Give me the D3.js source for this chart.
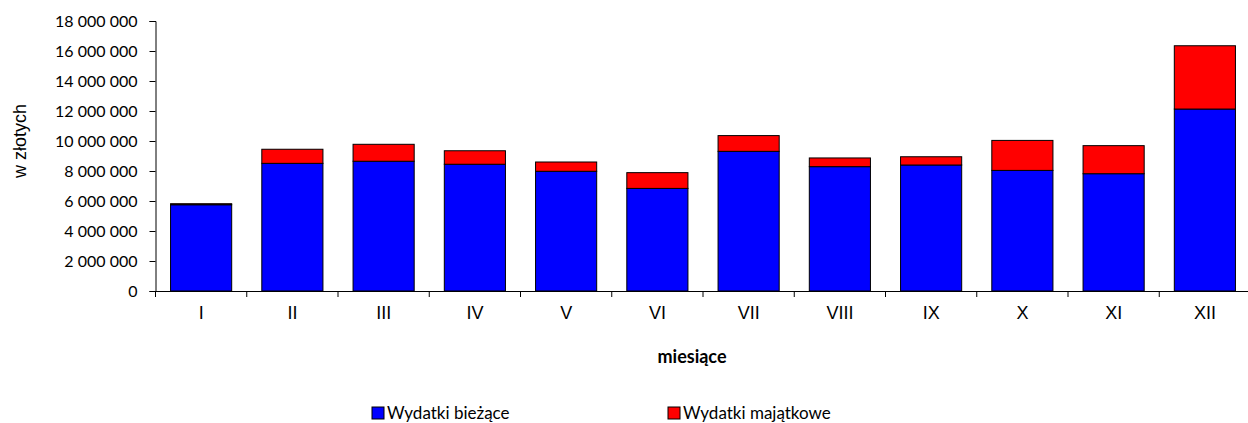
<!DOCTYPE html>
<html>
<head>
<meta charset="utf-8">
<script src="https://cdn.jsdelivr.net/npm/d3@7"></script>
<style>
  body { margin: 0; background: #fff; }
  svg { display: block; }
</style>
</head>
<body>
<svg id="chart" width="1248" height="423"></svg>
<script>
// dane
const months = ['I', 'II', 'III', 'IV', 'V', 'VI', 'VII', 'VIII', 'IX', 'X', 'XI', 'XII']
const biezace = [5750000, 8510000, 8650000, 8450000, 7980000, 6840000, 9310000, 8290000, 8400000, 8040000, 7820000, 12130000]
const majatkowe = [70000, 940000, 1130000, 900000, 620000, 1050000, 1050000, 580000, 550000, 2000000, 1870000, 4220000]
const yTicks = [0, 2000000, 4000000, 6000000, 8000000, 10000000, 12000000, 14000000, 16000000, 18000000]
const seriesNames = ['Wydatki bieżące', 'Wydatki majątkowe']
const colors = ['#0000ff', '#ff0000']

const svg = d3.select('#chart')
const plot = { left: 155.5, right: 1250.5, top: 21, bottom: 291 }

const x = d3.scaleBand()
  .domain(months)
  .range([plot.left, plot.right])
  .paddingInner(0.33)
  .paddingOuter(0.165)

const y = d3.scaleLinear()
  .domain([0, 18000000])
  .range([plot.bottom, plot.top])

const fmt = d3.formatLocale({ decimal: ',', thousands: ' ', grouping: [3], currency: ['', ''] }).format(',d')

const rows = months.map((m, i) => ({ month: m, b: biezace[i], m: majatkowe[i] }))
const stacked = d3.stack().keys(['b', 'm'])(rows)

// słupki
svg.append('g')
  .selectAll('g')
  .data(stacked)
  .join('g')
  .attr('fill', (d, i) => colors[i])
  .selectAll('rect')
  .data(d => d)
  .join('rect')
  .attr('x', d => x(d.data.month))
  .attr('y', d => y(d[1]))
  .attr('width', x.bandwidth())
  .attr('height', d => y(d[0]) - y(d[1]))
  .attr('stroke', '#000')
  .attr('stroke-width', 1)

// oś Y
const yAxis = svg.append('g')
  .attr('transform', `translate(${plot.left},0)`)
  .call(d3.axisLeft(y).tickValues(yTicks).tickFormat(fmt).tickSize(6).tickPadding(12))
yAxis.select('.domain').attr('stroke', '#000')
yAxis.selectAll('text')
  .attr('font-family', 'Lato, Carlito, sans-serif')
  .attr('font-size', 16)
  .attr('fill', '#000')

// oś X
const xAxis = svg.append('g')
  .attr('transform', `translate(0,${plot.bottom})`)
  .call(d3.axisBottom(x).tickSize(0).tickPadding(15))
xAxis.select('.domain').attr('stroke', '#000')
xAxis.selectAll('text')
  .attr('font-family', 'Liberation Sans, Arial, sans-serif')
  .attr('font-size', 18)
  .attr('fill', '#000')

// kreski podziału między kategoriami
const step = x.step()
svg.append('g')
  .selectAll('line')
  .data(d3.range(months.length))
  .join('line')
  .attr('x1', i => plot.left + i * step)
  .attr('x2', i => plot.left + i * step)
  .attr('y1', plot.bottom)
  .attr('y2', plot.bottom + 6)
  .attr('stroke', '#000')

// tytuły osi
svg.append('text')
  .attr('transform', 'translate(26,141) rotate(-90)')
  .attr('text-anchor', 'middle')
  .attr('font-family', 'Liberation Sans, Arial, sans-serif')
  .attr('font-size', 18)
  .text('w złotych')

svg.append('text')
  .attr('x', 692)
  .attr('y', 363)
  .attr('text-anchor', 'middle')
  .attr('font-family', 'Lato, Carlito, sans-serif')
  .attr('font-weight', 'bold')
  .attr('font-size', 18)
  .text('miesiące')

// legenda
const legendX = [372, 668]
const legend = svg.append('g')
  .selectAll('g')
  .data(seriesNames)
  .join('g')
  .attr('transform', (d, i) => `translate(${legendX[i]},407)`)
legend.append('rect')
  .attr('width', 12)
  .attr('height', 12)
  .attr('fill', (d, i) => colors[i])
  .attr('stroke', '#000')
legend.append('text')
  .attr('x', 15)
  .attr('y', 12)
  .attr('font-family', 'Lato, Carlito, sans-serif')
  .attr('font-size', 17)
  .text(d => d)
</script>
</body>
</html>
